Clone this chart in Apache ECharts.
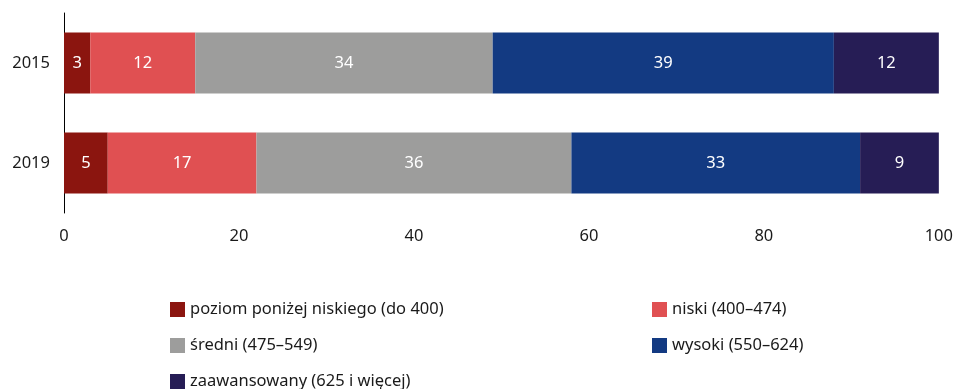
<!DOCTYPE html>
<html>
<head>
<meta charset="utf-8">
<script src="https://cdn.jsdelivr.net/npm/echarts@6/dist/echarts.min.js"></script>
<style>
  html, body { margin: 0; padding: 0; background: #fff; }
  #chart { width: 956px; height: 389px; }
</style>
</head>
<body>
<div id="chart"></div>
<script>
// Years shown as bars (top to bottom)
const years = ['2015', '2019'];

// Proficiency levels and their shares (%) per year
const levelNames = [
  'poziom poniżej niskiego (do 400)',
  'niski (400–474)',
  'średni (475–549)',
  'wysoki (550–624)',
  'zaawansowany (625 i więcej)'
];
const belowLow = [3, 5];
const low = [12, 17];
const medium = [34, 36];
const high = [39, 33];
const advanced = [12, 9];

const xTicks = { min: 0, max: 100, interval: 20 };
const colors = ['#8B150F', '#E05052', '#9D9D9C', '#133A82', '#261D55'];

const seriesValues = [belowLow, low, medium, high, advanced];
const font = 'Noto Sans';
const fs = 16.5;

// Legend laid out in two columns, three rows
const legendSlots = [
  { left: 170, top: 301 },
  { left: 652, top: 301 },
  { left: 170, top: 337 },
  { left: 652, top: 337 },
  { left: 170, top: 373 }
];

const chart = echarts.init(document.getElementById('chart'));
chart.setOption({
  animation: false,
  textStyle: { fontFamily: font },
  grid: { left: 64, right: 16, top: 13, bottom: 176, containLabel: false },
  xAxis: {
    type: 'value',
    min: xTicks.min, max: xTicks.max, interval: xTicks.interval,
    axisLine: { show: false },
    axisTick: { show: false },
    splitLine: { show: false },
    axisLabel: { color: '#1a1a1a', fontSize: fs, fontFamily: font, margin: 15 }
  },
  yAxis: {
    type: 'category',
    data: years,
    inverse: true,
    axisLine: { show: true, lineStyle: { color: '#000', width: 1 } },
    axisTick: { show: false },
    axisLabel: { color: '#1a1a1a', fontSize: fs, fontFamily: font, margin: 14 }
  },
  legend: levelNames.map((name, i) => ({
    data: [name],
    left: legendSlots[i].left,
    top: legendSlots[i].top,
    padding: 0,
    itemWidth: 15, itemHeight: 15,
    icon: 'rect',
    textStyle: { fontSize: fs, lineHeight: 15, color: '#1a1a1a', fontFamily: font }
  })),
  series: levelNames.map((name, i) => ({
    name: name,
    type: 'bar',
    stack: 'total',
    barWidth: 61,
    data: seriesValues[i],
    itemStyle: { color: colors[i] },
    label: {
      show: true,
      position: 'inside',
      color: '#fff',
      fontSize: fs,
      fontFamily: font
    }
  }))
});
</script>
</body>
</html>
